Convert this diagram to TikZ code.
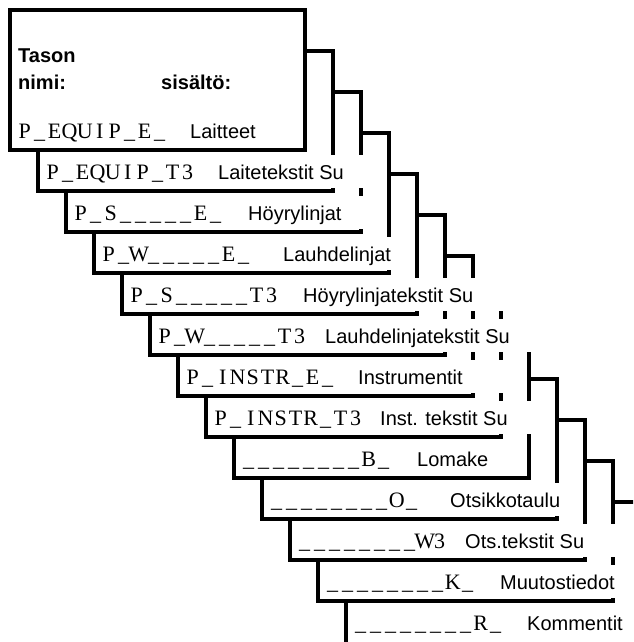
\documentclass[tikz,border=0pt]{standalone}
\usepackage{fontspec}
\setmainfont{Liberation Sans}
\newfontfamily\codefont{Liberation Serif}
\ExplSyntaxOn
\NewDocumentCommand \spacedcode { m }
  { { \codefont \exp_args:No \str_map_inline:nn {#1} { \makebox[15pt][c]{##1} } } }
\ExplSyntaxOff
\begin{document}
\begin{tikzpicture}[x=1pt,y=-1pt,
  card/.style={draw=black, line width=3.5pt, fill=white},
  band/.style={fill=white, draw=none},
  codetxt/.style={anchor=base west, inner sep=0pt, font=\fontsize{22}{26}\selectfont},
  labtxt/.style={anchor=base west, inner sep=0pt, font=\fontsize{20}{24}\selectfont},
  headtxt/.style={anchor=base west, inner sep=0pt, font=\fontsize{20}{24}\selectfont\bfseries}]
\useasboundingbox (0,0) rectangle (633,642);
\clip (0,0) rectangle (633,642);
\foreach \k/\mt/\st/\sx/\be in {
  12/________R_/Kommentit/527/633,
  11/________K_/Muutostiedot/500/633,
  10/________W3/Ots.tekstit Su/465/625,
  9/________O_/Otsikkotaulu/450/571,
  8/________B_/Lomake/417/510,
  7/P_INSTR_T3/Inst. tekstit Su/380/543,
  6/P_INSTR_E_/Instrumentit/358/515,
  5/P_W_____T3/Lauhdelinjatekstit Su/325/540,
  4/P_S_____T3/Höyrylinjatekstit Su/303/515,
  3/P_W_____E_/Lauhdelinjat/283/404,
  2/P_S_____E_/Höyrylinjat/248/375,
  1/P_EQUIP_T3/Laitetekstit Su/218/375,
  0/P_EQUIP_E_/Laitteet/190/290}{
  \pgfmathsetmacro\xl{10+28*\k}
  \pgfmathsetmacro\xr{305+28*\k}
  \pgfmathsetmacro\yt{10+41*\k}
  \pgfmathsetmacro\yb{\k==12 ? 660 : 150+41*\k}
  \pgfmathsetmacro\bl{138+41*\k}
  \draw[card] (\xl,\yt) rectangle (\xr,\yb);
  \fill[band] (\xl+6,\bl-24) rectangle (\be,\bl+9);
  \node[codetxt] (m\k) at (\xl+7,\bl) {\spacedcode{\mt}};
  \node[labtxt] (s\k) at (\sx,\bl) {\st};
}
\node[headtxt] (h1) at (18,63) {Tason};
\node[headtxt] (h2) at (18,89) {nimi:};
\node[headtxt] (h3) at (161,89) {sisältö:};
\end{tikzpicture}
\end{document}
